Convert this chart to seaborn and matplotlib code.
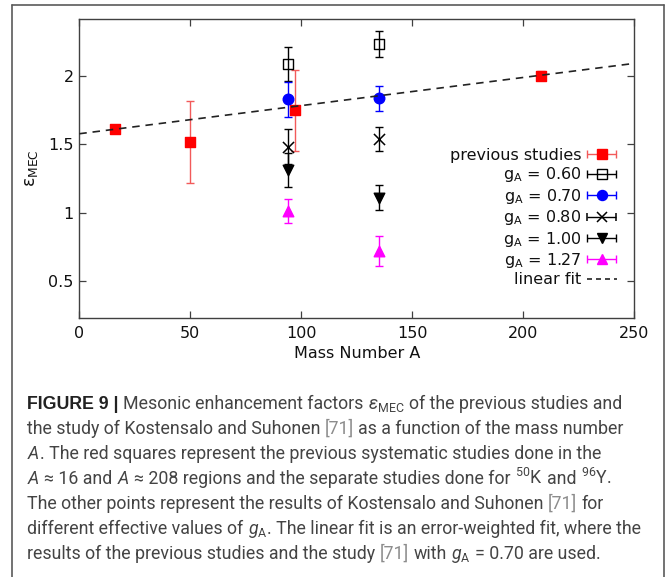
import numpy as np
import matplotlib
matplotlib.use("Agg")
import matplotlib.pyplot as plt
import seaborn as sns
from matplotlib.legend_handler import HandlerErrorbar
from matplotlib.container import ErrorbarContainer
from matplotlib.lines import Line2D
from matplotlib.font_manager import FontProperties

# ---------------- data ----------------
prev_A = [16, 50, 97, 208]
prev_eps = [1.613, 1.518, 1.750, 2.007]
prev_err = [0.02, 0.30, 0.30, 0.03]

ks_A = [94, 135]
eps_060 = [2.093, 2.240]
err_060 = [0.125, 0.097]
eps_070 = [1.831, 1.838]
err_070 = [0.130, 0.090]
eps_080 = [1.485, 1.540]
err_080 = [0.128, 0.086]
eps_100 = [1.314, 1.110]
err_100 = [0.125, 0.090]
eps_127 = [1.012, 0.720]
err_127 = [0.086, 0.110]

fit_A = [0, 250]
fit_eps = [1.579, 2.096]

x_ticks = [0, 50, 100, 150, 200, 250]
y_ticks = [0.5, 1.0, 1.5, 2.0]
y_tick_labels = ["0.5", "1", "1.5", "2"]

series_labels = ["previous studies", "g$_{\\mathrm{A}}$ = 0.60", "g$_{\\mathrm{A}}$ = 0.70",
                 "g$_{\\mathrm{A}}$ = 0.80", "g$_{\\mathrm{A}}$ = 1.00", "g$_{\\mathrm{A}}$ = 1.27"]
fit_label = "linear fit"

# ---------------- style ----------------
sns.set_theme(style="ticks")
plt.rcParams["font.family"] = ["DejaVu Sans"]
plt.rcParams["mathtext.fontset"] = "custom"
plt.rcParams["mathtext.rm"] = "Roboto"
plt.rcParams["mathtext.it"] = "Roboto:italic"
plt.rcParams["mathtext.bf"] = "Roboto:bold"

W, H = 670, 577
fig = plt.figure(figsize=(W / 100, H / 100), dpi=100)
fig.patch.set_facecolor("white")

ax_l, ax_r, ax_t, ax_b = 79.3, 634.3, 19.3, 318.0
ax = fig.add_axes([ax_l / W, 1 - ax_b / H, (ax_r - ax_l) / W, (ax_b - ax_t) / H])
ax.set_facecolor("white")

FS = 11.5
spine_col = "#404040"

styles = [
    dict(x=prev_A, y=prev_eps, e=prev_err, marker="s", mfc="#ff0000", mec="#ff0000", ecol="#f25a5a", ms=7.4),
    dict(x=ks_A, y=eps_060, e=err_060, marker="s", mfc="none", mec="black", ecol="black", ms=7.4),
    dict(x=ks_A, y=eps_070, e=err_070, marker="o", mfc="#0000ff", mec="#0000ff", ecol="#0000ff", ms=7.6),
    dict(x=ks_A, y=eps_080, e=err_080, marker="x", mfc="black", mec="black", ecol="black", ms=8.0),
    dict(x=ks_A, y=eps_100, e=err_100, marker="v", mfc="black", mec="black", ecol="black", ms=7.6),
    dict(x=ks_A, y=eps_127, e=err_127, marker="^", mfc="#ff00ff", mec="#ff00ff", ecol="#ff00ff", ms=7.6),
]

handles = []
for st, lab in zip(styles, series_labels):
    # vertical error bars
    ax.errorbar(st["x"], st["y"], yerr=st["e"], fmt="none", ecolor=st["ecol"],
                elinewidth=1.0, capsize=3, capthick=1.0, zorder=2)
    # markers via seaborn
    if st["marker"] == "x":
        sns.scatterplot(x=st["x"], y=st["y"], marker="x", color="black", s=st["ms"] ** 2,
                        linewidth=1.1, ax=ax, zorder=3, legend=False)
    else:
        sns.scatterplot(x=st["x"], y=st["y"], marker=st["marker"], s=st["ms"] ** 2,
                        facecolor=st["mfc"], edgecolor=st["mec"], linewidth=1.0,
                        ax=ax, zorder=3, legend=False)
    # legend proxy with horizontal error bar
    h = ax.errorbar([np.nan], [np.nan], xerr=[1.0], fmt=st["marker"], linestyle="none",
                    mfc=st["mfc"], mec=st["mec"], ms=st["ms"] * 0.95, ecolor=st["ecol"],
                    elinewidth=1.0, capsize=3, capthick=1.0,
                    markeredgewidth=1.1 if st["marker"] == "x" else 1.0, label=lab)
    handles.append(h)

sns.lineplot(x=fit_A, y=fit_eps, ax=ax, color="#222222", linewidth=1.2,
             dashes=False, zorder=4, legend=False)
ax.lines[-1].set_dashes([4.5, 3.5])
fit_handle = Line2D([], [], color="#222222", linewidth=1.2, dashes=[3.0, 2.4])
handles.append(fit_handle)

ax.set_xlim(0, 250)
ax.set_ylim(0.225, 2.42)
ax.set_xticks(x_ticks)
ax.set_yticks(y_ticks)
ax.set_yticklabels(y_tick_labels)
ax.tick_params(direction="in", top=True, right=True, length=5, width=0.9,
               color=spine_col, labelsize=FS, labelcolor="#111111")
ax.tick_params(axis="x", pad=6)
ax.tick_params(axis="y", pad=4)
for sp in ax.spines.values():
    sp.set_color(spine_col)
    sp.set_linewidth(1.0)

ax.set_xlabel("Mass Number A", fontsize=FS, color="#111111", labelpad=3)
ax.set_ylabel("ε$_{\\mathrm{MEC}}$", fontsize=FS + 1, color="#111111", labelpad=6,
              math_fontfamily="dejavusans")

leg_prop = FontProperties(family="DejaVu Sans", size=FS, math_fontfamily="dejavusans")
leg = ax.legend(handles=handles, labels=series_labels + [fit_label], loc="upper right",
                bbox_to_anchor=((617 - ax_l) / (ax_r - ax_l), (ax_b - 148) / (ax_b - ax_t)),
                frameon=False, markerfirst=False, prop=leg_prop, borderpad=0,
                borderaxespad=0, handlelength=1.9, handletextpad=0.35, labelspacing=0.15,
                handler_map={ErrorbarContainer: HandlerErrorbar(xerr_size=0.9)})
for t in leg.get_texts():
    t.set_color("#111111")

# ---------------- outer frame ----------------
frame_col = "#5a5a5a"
fx0, fx1, fy0 = 12.3 / W, 664.0 / W, 1 - 4.7 / H
for xs, ys in [([fx0, fx0], [fy0, -0.01]), ([fx1, fx1], [fy0, -0.01]), ([fx0, fx1], [fy0, fy0])]:
    fig.add_artist(Line2D(xs, ys, transform=fig.transFigure, color=frame_col, linewidth=1.2))

# ---------------- caption ----------------
cap_font = ["Roboto", "DejaVu Sans"]
bold_font = ["Liberation Sans", "DejaVu Sans"]
cap_col = "#444444"
ref_col = "#8c8c8c"
renderer = fig.canvas.get_renderer()

N = dict()
B = dict(weight="bold", color="#222222", family=bold_font)
G = dict(color=ref_col)

caption = [
    [("FIGURE 9 |", B), (" Mesonic enhancement factors ", N), ("$\\epsilon_{\\mathrm{MEC}}$", N),
     (" of the previous studies and", N)],
    [("the study of Kostensalo and Suhonen ", N), ("[71]", G), (" as a function of the mass number", N)],
    [("$A$", N), (". The red squares represent the previous systematic studies done in the", N)],
    [("$A$", N), (" ≈ 16 and ", N), ("$A$", N), (" ≈ 208 regions and the separate studies done for ", N),
     ("$^{50}$K", N), (" and ", N), ("$^{96}$Y.", N)],
    [("The other points represent the results of Kostensalo and Suhonen ", N), ("[71]", G), (" for", N)],
    [("different effective values of ", N), ("$g_{\\mathrm{A}}$", N),
     (". The linear fit is an error-weighted fit, where the", N)],
    [("results of the previous studies and the study ", N), ("[71]", G), (" with ", N),
     ("$g_{\\mathrm{A}}$", N), (" = 0.70 are used.", N)],
]
baselines = [409, 434, 459, 484, 509, 534, 559]
x_start = 27.0

_sw_cache = {}


def seg_props(kw):
    return dict(family=kw.get("family", cap_font), weight=kw.get("weight", "normal"))


def space_w(kw, size):
    p = seg_props(kw)
    key = (tuple(p["family"]), p["weight"], size)
    if key not in _sw_cache:
        t1 = fig.text(0, 0, "a a", fontsize=size, **p)
        t2 = fig.text(0, 0, "aa", fontsize=size, **p)
        _sw_cache[key] = t1.get_window_extent(renderer).width - t2.get_window_extent(renderer).width
        t1.remove()
        t2.remove()
    return _sw_cache[key]


def draw_line(segs, y, size):
    x = x_start
    made = []
    for s, kw in segs:
        lead = len(s) - len(s.lstrip(" "))
        trail = len(s) - len(s.rstrip(" "))
        core = s.strip(" ")
        sw = space_w(kw, size)
        x += lead * sw
        t = fig.text(x / W, 1 - y / H, core, fontsize=size, ha="left", va="baseline",
                     color=kw.get("color", cap_col), math_fontfamily="custom", **seg_props(kw))
        made.append(t)
        x += t.get_window_extent(renderer).width + trail * sw
    return made, x


# size the caption so that its longest line fits the same width as the reference
test, xend = draw_line(caption[5], baselines[5], 12.0)
for t in test:
    t.remove()
cap_size = 12.0 * (641.0 - x_start) / (xend - x_start)
_sw_cache.clear()
for segs, yb in zip(caption, baselines):
    draw_line(segs, yb, cap_size)

fig.savefig("out.png", dpi=100, facecolor="white")
